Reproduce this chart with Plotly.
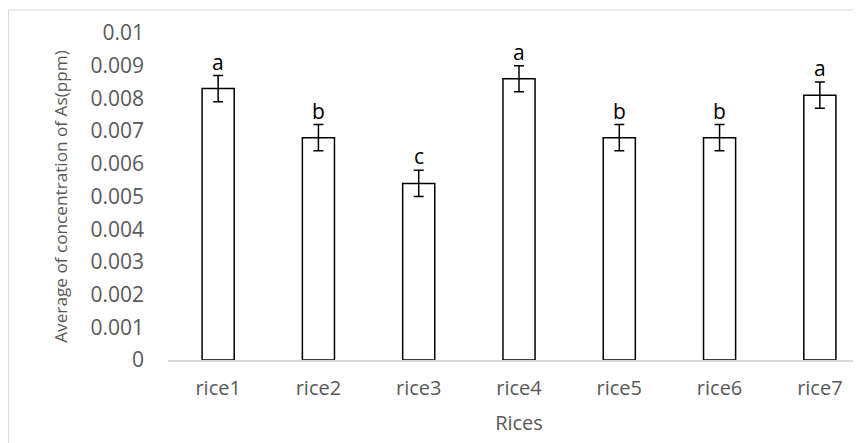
import plotly.graph_objects as go

categories = ["rice1", "rice2", "rice3", "rice4", "rice5", "rice6", "rice7"]
means = [0.0083, 0.0068, 0.0054, 0.0086, 0.0068, 0.0068, 0.0081]
errors = [0.0004, 0.0004, 0.0004, 0.0004, 0.0004, 0.0004, 0.0004]
letters = ["a", "b", "c", "a", "b", "b", "a"]
y_ticks = [0, 0.001, 0.002, 0.003, 0.004, 0.005, 0.006, 0.007, 0.008, 0.009, 0.01]
y_tick_text = ["0", "0.001", "0.002", "0.003", "0.004", "0.005", "0.006", "0.007", "0.008", "0.009", "0.01"]

FONT = "Open Sans"
GREY = "#595959"

fig = go.Figure()
fig.add_trace(go.Bar(
    x=categories, y=means, width=0.32,
    marker=dict(color="white", line=dict(color="black", width=1.5)),
    error_y=dict(type="data", array=errors, visible=True, color="black", thickness=1.5, width=5),
    showlegend=False,
))

for c, m, e, t in zip(categories, means, errors, letters):
    fig.add_annotation(x=c, y=m + e, text=t, showarrow=False, yanchor="bottom", yshift=-2,
                       font=dict(family=FONT, size=21, color="black"))

fig.add_shape(type="rect", xref="paper", yref="paper", x0=-0.2272, x1=1.2, y0=-0.5, y1=1.0703,
              line=dict(color="#d9d9d9", width=1), fillcolor="rgba(0,0,0,0)", layer="below")

fig.update_layout(
    width=862, height=443,
    margin=dict(l=160, r=0, t=25, b=91, autoexpand=False),
    paper_bgcolor="white", plot_bgcolor="white",
    font=dict(family=FONT, color=GREY),
    xaxis=dict(range=[-0.5, 6.5], showline=True, linecolor="#d9d9d9", linewidth=1.5,
               showgrid=False, ticks="", tickfont=dict(size=20, color=GREY),
               ticklabelstandoff=9, automargin=False,
               title=dict(text="Rices", font=dict(size=20, color=GREY), standoff=16)),
    yaxis=dict(range=[0, 0.01], tickvals=y_ticks, ticktext=y_tick_text, showgrid=False,
               showline=False, zeroline=False, ticks="", tickfont=dict(size=21, color=GREY),
               ticklabelstandoff=23, automargin=False,
               title=dict(text="Average of concentration of As(ppm)", font=dict(size=17.2, color=GREY), standoff=18)),
)

fig.write_html("out.html")
